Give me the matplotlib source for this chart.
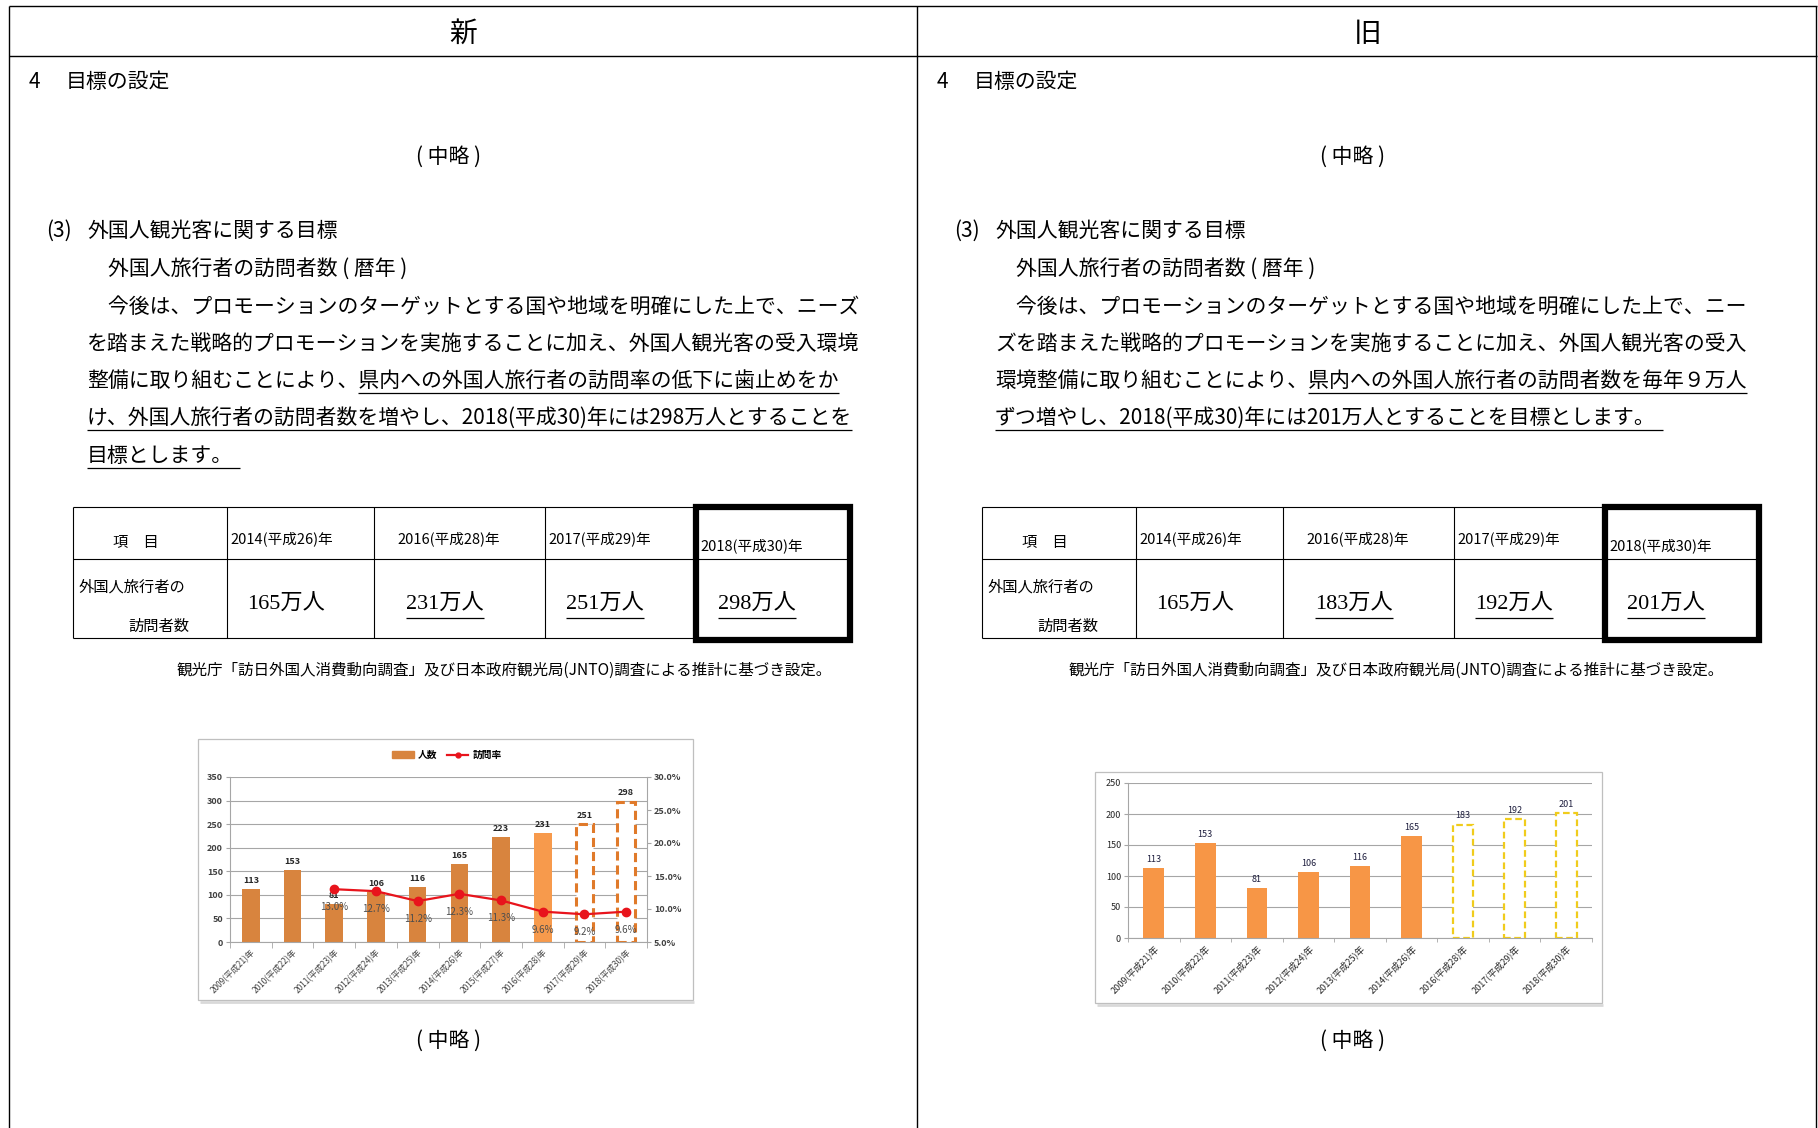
import numpy as np
import matplotlib.pyplot as plt
from matplotlib.patches import Rectangle, Patch
from matplotlib.lines import Line2D
from matplotlib.font_manager import FontProperties
from matplotlib.ticker import FuncFormatter

JP = ['Noto Sans CJK JP', 'DejaVu Sans']
SERIF = ['Liberation Serif', 'Noto Sans CJK JP']
plt.rcParams['font.family'] = JP

# --- data ---
years_new = ["2009(平成21)年", "2010(平成22)年", "2011(平成23)年", "2012(平成24)年",
             "2013(平成25)年", "2014(平成26)年", "2015(平成27)年", "2016(平成28)年",
             "2017(平成29)年", "2018(平成30)年"]
visitors_new = [113, 153, 81, 106, 116, 165, 223, 231, 251, 298]
rate_years = years_new[2:]
visit_rate = [13.0, 12.7, 11.2, 12.3, 11.3, 9.6, 9.2, 9.6]

years_old = ["2009(平成21)年", "2010(平成22)年", "2011(平成23)年", "2012(平成24)年",
             "2013(平成25)年", "2014(平成26)年", "2016(平成28)年", "2017(平成29)年",
             "2018(平成30)年"]
visitors_old = [113, 153, 81, 106, 116, 165, 183, 192, 201]

table_years = ["2014(平成26)年", "2016(平成28)年", "2017(平成29)年", "2018(平成30)年"]
table_new = ["165万人", "231万人", "251万人", "298万人"]
table_old = ["165万人", "183万人", "192万人", "201万人"]

body_new = [
    "　今後は、プロモーションのターゲットとする国や地域を明確にした上で、ニーズ",
    "を踏まえた戦略的プロモーションを実施することに加え、外国人観光客の受入環境",
    "整備に取り組むことにより、県内への外国人旅行者の訪問率の低下に歯止めをか",
    "け、外国人旅行者の訪問者数を増やし、2018(平成30)年には298万人とすることを",
    "目標とします。",
]
body_old = [
    "　今後は、プロモーションのターゲットとする国や地域を明確にした上で、ニー",
    "ズを踏まえた戦略的プロモーションを実施することに加え、外国人観光客の受入",
    "環境整備に取り組むことにより、県内への外国人旅行者の訪問者数を毎年９万人",
    "ずつ増やし、2018(平成30)年には201万人とすることを目標とします。",
]
# underline start (character index) per body line, None = no underline
ul_new = [None, None, 13, 0, 0]
ul_old = [None, None, 15, 0]
note = "観光庁「訪日外国人消費動向調査」及び日本政府観光局(JNTO)調査による推計に基づき設定。"

# --- page ---
W, H = 1818, 1128
fig = plt.figure(figsize=(W / 100, H / 100), dpi=100)
bg = fig.add_axes([0, 0, 1, 1])
bg.set_xlim(0, W)
bg.set_ylim(H, 0)
bg.axis('off')
renderer = fig.canvas.get_renderer()


def ax_rect(x0, x1, y0, y1):
    return [x0 / W, 1 - y1 / H, (x1 - x0) / W, (y1 - y0) / H]


def text_width(s, size, family=JP):
    fp = FontProperties(family=family, size=size)
    w, h, d = renderer.get_text_width_height_descent(s, fp, ismath=False)
    return w


def put(x, y, s, size=15, ha='left', **kw):
    # small downward nudge so the CJK glyph centre sits where the reference has it
    return bg.text(x, y + 3, s, fontsize=size, ha=ha, va='center', **kw)


def hline(x0, x1, y, lw=0.8, color='k'):
    bg.plot([x0, x1], [y, y], color=color, lw=lw, solid_capstyle='butt')


def vline(x, y0, y1, lw=0.8, color='k'):
    bg.plot([x, x], [y0, y1], color=color, lw=lw, solid_capstyle='butt')


# frame
hline(9, 1817, 6, lw=1.0)
hline(9, 1817, 56, lw=1.0)
vline(9, 6, H, lw=1.0)
vline(917, 6, H, lw=1.0)
vline(1816, 6, H, lw=1.0)

put(463, 31, "新", size=20, ha='center')
put(1368, 31, "旧", size=20, ha='center')


def side(dx, body, ul, lines_y):
    put(29 + dx, 79, "4")
    put(66 + dx, 79, "目標の設定")
    put(46 + dx, 228, "(3)")
    put(87 + dx, 228, "外国人観光客に関する目標")
    put(108 + dx, 266, "外国人旅行者の訪問者数 ( 暦年 )")
    for s, u, y in zip(body, ul, lines_y):
        put(87 + dx, y, s)
        if u is not None:
            x0 = 87 + dx + text_width(s[:u], 15)
            x1 = 87 + dx + text_width(s, 15)
            if s.endswith("。"):
                x1 += 7
            hline(x0, x1, y + 15, lw=0.9)


line_y = [304, 341, 378, 415, 453]
side(0, body_new, ul_new, line_y)
side(908, body_old, ul_old, line_y)

put(449, 154, "( 中略 )", ha='center')
put(1353, 154, "( 中略 )", ha='center')
put(449, 1038, "( 中略 )", ha='center')
put(1353, 1038, "( 中略 )", ha='center')


def draw_table(dx, values):
    cols = [73, 227, 374, 545, 696, 850]
    top, mid, bot = 507, 559, 638
    cols = [c + dx for c in cols]
    hline(cols[0], cols[-1], top)
    hline(cols[0], cols[-1], mid)
    hline(cols[0], cols[-1], bot)
    for c in cols[:-1]:
        vline(c, top, bot)
    bg.add_patch(Rectangle((cols[4], top), cols[5] - cols[4], bot + 2 - top,
                           fill=False, edgecolor='k', lw=4.5, joinstyle='miter'))
    put(136 + dx, 540, "項　目", size=11, ha='center')
    hx = [230, 397, 548, 700]
    hy = [536, 536, 536, 543]
    for s, x, y in zip(table_years, hx, hy):
        put(x + dx, y, s, size=10.5)
    put(79 + dx, 584, "外国人旅行者の", size=11)
    put(128 + dx, 623, "訪問者数", size=11)
    vx = [247, 406, 566, 718]
    for i, (s, x) in enumerate(zip(values, vx)):
        put(x + dx, 602, s, size=16, family=SERIF)
        if i > 0:
            w = text_width(s, 16, SERIF)
            hline(x + dx, x + dx + w, 618, lw=0.9)


draw_table(0, table_new)
draw_table(909, table_old)
put(504, 667, note, size=11.2, ha='center')
put(1396, 667, note, size=11.2, ha='center')

# chart frames
for (x0, x1, y0, y1) in [(198, 693, 739, 1000), (1095, 1602, 772, 1003)]:
    hline(x0 + 2, x1 + 1, y1 + 1.5, lw=2.0, color='#D9D9D9')
    bg.add_patch(Rectangle((x0, y0), x1 - x0, y1 - y0, fill=False,
                           edgecolor='#BFBFBF', lw=0.9))

GRID = '#A6A6A6'

# --- new chart ---
axL = fig.add_axes(ax_rect(230, 647, 777, 942))
axL.set_facecolor('none')
x = np.arange(len(years_new))
bar_cols = ['#D8843E'] * 7 + ['#F79A4C']
axL.bar(x[:8], visitors_new[:8], width=0.42, color=bar_cols, zorder=2)
axL.bar(x[8:], visitors_new[8:], width=0.42, facecolor='white', edgecolor='#E07A2A',
        linestyle=(0, (3, 1.6)), lw=2.2, zorder=2)
for xi, v in zip(x, visitors_new):
    axL.annotate(str(v), (xi, v), xytext=(0, 3), textcoords='offset points',
                 ha='center', va='bottom', fontsize=6.5, fontweight='bold', color='#262626')
axL.set_ylim(0, 350)
axL.set_yticks(range(0, 351, 50))
axL.set_xlim(-0.5, 9.5)
axL.set_axisbelow(True)
axL.yaxis.grid(True, color=GRID, lw=0.8)
axL.set_xticks(x)
axL.set_xticklabels(years_new, rotation=45, ha='right', rotation_mode='anchor', fontsize=6)
axL.set_xticks(np.arange(-0.5, 10, 1), minor=True)
axL.tick_params(axis='x', which='major', length=0, pad=4, colors='#404040')
axL.tick_params(axis='x', which='minor', length=4, color=GRID)
axL.tick_params(axis='y', length=3, color=GRID, labelsize=6.5, labelcolor='#404040', pad=2)
for lab in axL.get_yticklabels():
    lab.set_fontweight('bold')
for sp in ['top', 'right']:
    axL.spines[sp].set_visible(False)
axL.spines['left'].set_color(GRID)
axL.spines['bottom'].set_color(GRID)

axR = axL.twinx()
xr = np.array([years_new.index(y) for y in rate_years])
axR.plot(xr, visit_rate, color='#E8141C', lw=1.6, marker='o', ms=6, zorder=3)
for xi, r in zip(xr, visit_rate):
    axR.annotate(f"{r:.1f}%", (xi, r), xytext=(0, -13), textcoords='offset points',
                 ha='center', va='center', fontsize=7, color='#4D4D4D')
axR.set_ylim(5, 30)
axR.set_yticks(range(5, 31, 5))
axR.yaxis.set_major_formatter(FuncFormatter(lambda v, p: f"{v:.1f}%"))
axR.tick_params(axis='y', length=3, color=GRID, labelsize=6.5, labelcolor='#404040', pad=2)
for lab in axR.get_yticklabels():
    lab.set_fontweight('bold')
for sp in ['top', 'left', 'bottom']:
    axR.spines[sp].set_visible(False)
axR.spines['right'].set_color(GRID)

fig.legend(handles=[Patch(color='#D8843E'),
                    Line2D([], [], color='#E8141C', marker='o', ms=3.5, lw=1.6)],
           labels=['人数', '訪問率'], loc='center', bbox_to_anchor=(447 / W, 1 - 755 / H),
           ncol=2, frameon=False, prop={'size': 7, 'weight': 'bold'},
           handlelength=2.2, handleheight=0.6, columnspacing=1.0, handletextpad=0.4)

# --- old chart ---
axO = fig.add_axes(ax_rect(1128, 1592, 783, 938))
axO.set_facecolor('none')
xo = np.arange(len(years_old))
axO.bar(xo[:6], visitors_old[:6], width=0.40, color='#F79646', zorder=2)
axO.bar(xo[6:], visitors_old[6:], width=0.40, facecolor='white', edgecolor='#F0CC1C',
        linestyle=(0, (3, 1.6)), lw=1.6, zorder=2)
for xi, v in zip(xo, visitors_old):
    axO.annotate(str(v), (xi, v), xytext=(0, 3), textcoords='offset points',
                 ha='center', va='bottom', fontsize=6.5, color='#1F1F3F')
axO.set_ylim(0, 250)
axO.set_yticks(range(0, 251, 50))
axO.set_xlim(-0.5, 8.5)
axO.set_axisbelow(True)
axO.yaxis.grid(True, color=GRID, lw=0.8)
axO.set_xticks(xo)
axO.set_xticklabels(years_old, rotation=45, ha='right', rotation_mode='anchor', fontsize=6.5)
axO.set_xticks(np.arange(-0.5, 9, 1), minor=True)
axO.tick_params(axis='x', which='major', length=0, pad=4, colors='#262626')
axO.tick_params(axis='x', which='minor', length=3, color=GRID)
axO.tick_params(axis='y', length=3, color=GRID, labelsize=6.5, labelcolor='#262626', pad=2)
for sp in ['top', 'right']:
    axO.spines[sp].set_visible(False)
axO.spines['left'].set_color(GRID)
axO.spines['bottom'].set_color(GRID)

fig.savefig("out.png", dpi=100)
